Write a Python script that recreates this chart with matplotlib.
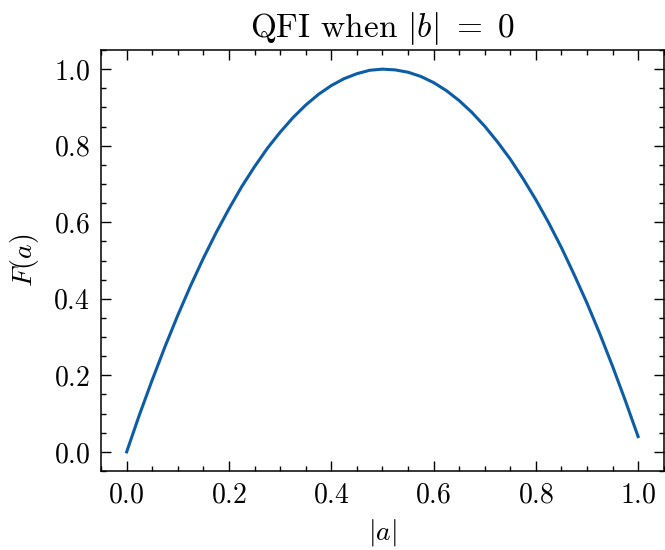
import matplotlib
matplotlib.use("Agg")
import matplotlib.pyplot as plt
from matplotlib.ticker import MultipleLocator

# values
a_vals = [0.0, 0.025, 0.05, 0.075, 0.1, 0.125, 0.15, 0.175, 0.2, 0.225,
          0.25, 0.275, 0.3, 0.325, 0.35, 0.375, 0.4, 0.425, 0.45, 0.475,
          0.5, 0.525, 0.55, 0.575, 0.6, 0.625, 0.65, 0.675, 0.7, 0.725,
          0.75, 0.775, 0.8, 0.825, 0.85, 0.875, 0.9, 0.925, 0.95, 0.975, 1.0]
F_vals = [0.0, 0.097, 0.188, 0.275, 0.357, 0.434, 0.506, 0.573, 0.635, 0.693,
          0.745, 0.793, 0.835, 0.873, 0.906, 0.934, 0.957, 0.975, 0.988, 0.997,
          1.0, 0.998, 0.992, 0.981, 0.965, 0.944, 0.918, 0.887, 0.851, 0.810,
          0.765, 0.714, 0.659, 0.599, 0.534, 0.463, 0.389, 0.309, 0.224, 0.134, 0.040]

plt.rcParams['font.family'] = 'serif'
plt.rcParams['font.serif'] = ['cmr10']
plt.rcParams['mathtext.fontset'] = 'cm'
plt.rcParams['axes.formatter.use_mathtext'] = True

fig = plt.figure(figsize=(6.65, 5.5), dpi=100)
ax = fig.add_axes([0.152, 0.1436, 0.846, 0.7655])

ax.plot(a_vals, F_vals, color='#0C5DA5', lw=2.2, solid_joinstyle='round')

ax.set_title(r'QFI when $|b|\ =\ 0$', fontsize=24, pad=9)
ax.set_xlabel(r'$|a|$', fontsize=20, labelpad=6)
ax.set_ylabel(r'$F(a)$', fontsize=20, labelpad=9)

ax.xaxis.set_major_locator(MultipleLocator(0.2))
ax.xaxis.set_minor_locator(MultipleLocator(0.05))
ax.yaxis.set_major_locator(MultipleLocator(0.2))
ax.yaxis.set_minor_locator(MultipleLocator(0.05))
ax.tick_params(which='both', direction='in', top=True, right=True, labelsize=20, width=1.0)
ax.tick_params(which='major', length=7, pad=8)
ax.tick_params(which='minor', length=3.5)
for s in ax.spines.values():
    s.set_linewidth(1.1)

fig.savefig('out.png', dpi=100)
